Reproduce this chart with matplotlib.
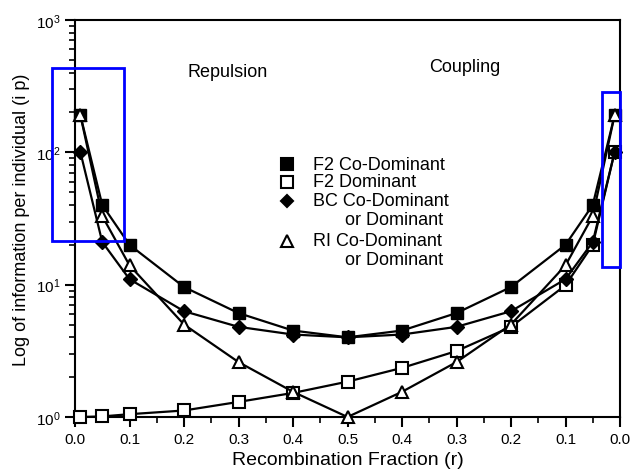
import matplotlib
matplotlib.use("Agg")
import matplotlib.pyplot as plt
from matplotlib.patches import Rectangle
from matplotlib.ticker import MultipleLocator, LogLocator, NullFormatter

plt.rcParams['font.family'] = ['Liberation Sans', 'DejaVu Sans']

# recombination fraction: repulsion side then coupling side
r_left = [0.01, 0.05, 0.1, 0.2, 0.3, 0.4, 0.5]
r_right = [0.4, 0.3, 0.2, 0.1, 0.05, 0.01]
xpos = r_left + [1 - r for r in r_right]

tick_pos = [i / 10 for i in range(11)]
tick_lab = ['0.0', '0.1', '0.2', '0.3', '0.4', '0.5', '0.4', '0.3', '0.2', '0.1', '0.0']

f2_codom = [190, 40, 20, 9.6, 6.1, 4.5, 4.0, 4.5, 6.1, 9.6, 20, 40, 190]
f2_dom = [1.0, 1.01, 1.05, 1.12, 1.3, 1.52, 1.85, 2.35, 3.15, 4.8, 9.9, 20, 100]
bc = [100, 21, 11, 6.3, 4.8, 4.2, 4.0, 4.2, 4.8, 6.3, 11, 21, 100]
ri = [190, 33, 14, 5.0, 2.6, 1.55, 1.0, 1.55, 2.6, 5.0, 14, 33, 190]

fig = plt.figure(figsize=(6.31, 4.77), dpi=100)
ax = fig.add_axes([75/631, 1 - 418/477, 545/631, 397/477])

lw = 1.6
ax.plot(xpos, f2_dom, '-s', color='black', lw=lw, ms=8, mfc='white', mec='black', mew=1.5,
        zorder=3, clip_on=False)
ax.plot(xpos, f2_codom, '-s', color='black', lw=lw, ms=8.5, zorder=4, clip_on=False)
ax.plot(xpos, bc, '-D', color='black', lw=lw, ms=7, zorder=5, clip_on=False)
ax.plot(xpos, ri, '-^', color='black', lw=lw, ms=9, mfc='white', mec='black', mew=1.5,
        zorder=6, clip_on=False)

ax.set_yscale('log')
ax.set_ylim(1, 1000)
ax.set_xlim(0, 1)
ax.set_xticks(tick_pos)
ax.set_xticklabels(tick_lab)
ax.xaxis.set_minor_locator(MultipleLocator(0.05))
ax.yaxis.set_minor_locator(LogLocator(base=10, subs=range(2, 10)))
ax.yaxis.set_minor_formatter(NullFormatter())
ax.tick_params(axis='both', which='major', direction='out', length=7, width=1.5, labelsize=11)
ax.tick_params(axis='both', which='minor', direction='out', length=4, width=1.2)
ax.tick_params(top=False, right=False, which='both')
for s in ax.spines.values():
    s.set_linewidth(1.5)

ax.set_xlabel('Recombination Fraction (r)', fontsize=14)
ax.set_ylabel('Log of information per individual (i p)', fontsize=13)

ax.text(0.28, 0.87, 'Repulsion', transform=ax.transAxes, ha='center', va='center', fontsize=13)
ax.text(0.715, 0.882, 'Coupling', transform=ax.transAxes, ha='center', va='center', fontsize=13)

# legend drawn by hand
def ay(py):
    return (418 - py) / 397

def axp(px):
    return (px - 75) / 545

leg = [('s', 'black', 'F2 Co-Dominant', None, 165),
       ('s', 'white', 'F2 Dominant', None, 183),
       ('D', 'black', 'BC Co-Dominant', 'or Dominant', 202),
       ('^', 'white', 'RI Co-Dominant', 'or Dominant', 242)]
for m, fc, t1, t2, py in leg:
    ax.plot([axp(287)], [ay(py)], m, transform=ax.transAxes, ms=8 if m != 'D' else 6.5,
            mfc=fc, mec='black', mew=1.5, clip_on=False)
    ax.text(axp(313), ay(py), t1, transform=ax.transAxes, va='center', fontsize=13)
    if t2:
        ax.text(axp(345), ay(py + 19), t2, transform=ax.transAxes, va='center', fontsize=13)

# blue highlight boxes
ax.add_patch(Rectangle((-0.042, 21.2), 0.132, 434 - 21.2, fill=False, ec='blue', lw=2, clip_on=False, zorder=10))
ax.add_patch(Rectangle((0.967, 13.7), 0.033, 286 - 13.7, fill=False, ec='blue', lw=2, clip_on=False, zorder=10))

fig.savefig('out.png', dpi=100)
